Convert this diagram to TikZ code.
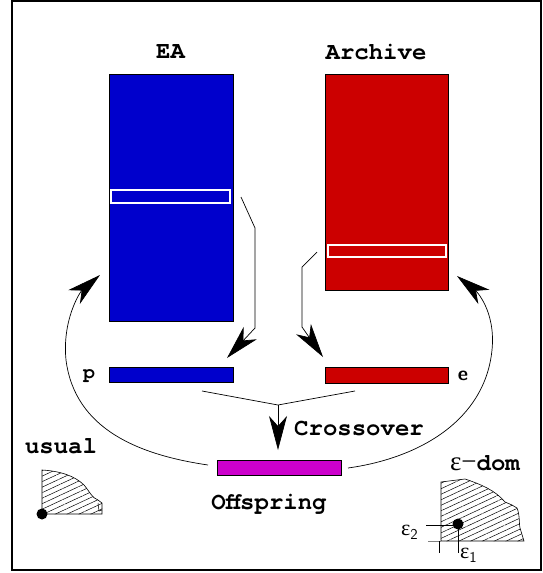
\documentclass[tikz,border=0pt]{standalone}
\usepackage{fontspec}
\setmonofont{TeX Gyre Cursor}
\newfontfamily\symfont{Liberation Serif}
\usetikzlibrary{arrows.meta,patterns.meta}
\definecolor{eablue}{HTML}{0000CC}
\definecolor{arred}{HTML}{CC0000}
\definecolor{offmag}{HTML}{CC00CC}
\newcommand{\epsub}[1]{{\symfont\fontsize{22}{22}\selectfont ε}\raisebox{-4pt}{\sffamily\fontsize{15}{15}\selectfont #1}}
\tikzset{
  box/.style={draw=black, line width=0.9pt, inner sep=0pt, outer sep=0pt},
  stripe/.style={draw=white, line width=1.2pt, inner sep=0pt, outer sep=0pt},
  lbl/.style={font=\ttfamily\bfseries\fontsize{24}{24}\selectfont, inner sep=0pt},
  small/.style={font=\ttfamily\bfseries\fontsize{20}{20}\selectfont, inner sep=0pt},
  conn/.style={line width=0.7pt},
  bigarrow/.style={line width=0.7pt, -{Stealth[length=34pt,width=18pt,inset=10pt]}},
  hatch/.style={draw=black, line width=0.6pt, pattern={Lines[angle=25,distance=5pt,line width=0.5pt]}},
}
\begin{document}
\begin{tikzpicture}[x=1pt,y=-1pt]
\useasboundingbox (0,0) rectangle (543,573);
\draw[line width=1.3pt] (12,1) rectangle (541,570);

% titles
\node[lbl] (tEA) at (170.5,52) {EA};
\node[lbl] (tAr) at (376,52) {Archive};

% populations
\node[box, fill=eablue, minimum width=124pt, minimum height=247pt] (EA) at (171,197.5) {};
\node[stripe, minimum width=119pt, minimum height=13pt] (EAs) at (170.5,196.5) {};
\node[box, fill=arred, minimum width=123pt, minimum height=216pt] (Ar) at (386.5,182) {};
\node[stripe, minimum width=118pt, minimum height=12pt] (Ars) at (387,251) {};

\node[box, fill=eablue, minimum width=124pt, minimum height=15pt] (pb) at (171,374.5) {};
\node[box, fill=arred, minimum width=123pt, minimum height=16pt] (eb) at (386.5,375) {};
\node[box, fill=offmag, minimum width=124pt, minimum height=15pt] (off) at (279,467.5) {};

\node[small] (pl) at (89,376) {p};
\node[font=\sffamily\bfseries\fontsize{20}{20}\selectfont, inner sep=0pt] (el) at (463,376) {e};

% selection arrows
\coordinate (a1) at (241,197);
\coordinate (a2) at (255,228);
\coordinate (a3) at (255,328);
\coordinate (a4) at (227,358);
\draw[conn] (a1) -- (a2) -- (a3);
\draw[bigarrow] (a3) -- (a4);

\coordinate (b1) at (317,252);
\coordinate (b2) at (302,267);
\coordinate (b3) at (302,327);
\coordinate (b4) at (323,357);
\draw[conn] (b1) -- (b2) -- (b3);
\draw[bigarrow] (b3) -- (b4);

% crossover
\coordinate (c1) at (202,391);
\coordinate (c2) at (355,391);
\coordinate (j) at (278,405);
\coordinate (jt) at (278,450);
\draw[conn] (c1) -- (j) -- (c2);
\draw[bigarrow] (j) -- (jt);
\node[lbl, anchor=west] (tCr) at (294,429) {Crossover};
\node[lbl] (tOf) at (269,504) {Offspring};

% feedback curves
\coordinate (l0) at (208,465);
\coordinate (lm) at (66,360);
\coordinate (l1) at (100,275);
\draw[conn] (l0) .. controls (140,455) and (75,430) .. (lm);
\draw[bigarrow] (lm) .. controls (62,320) and (80,292) .. (l1);

\coordinate (r0) at (348,468);
\coordinate (rm) at (492,350);
\coordinate (r1) at (457,276);
\draw[conn] (r0) .. controls (420,458) and (485,420) .. (rm);
\draw[bigarrow] (rm) .. controls (496,310) and (475,290) .. (r1);

% usual dominance
\node[lbl] (tUs) at (61,446) {usual};
\draw[hatch] (42,514) -- (42,470) .. controls (60,471) and (75,476) .. (84,485)
  .. controls (90,492) and (92,498) .. (98,500) -- (102,503) -- (102,514) -- cycle;
\draw[line width=0.5pt] (98,503) -- (99,511) -- (102,510);
\fill (42,514) circle (5.5pt);

% epsilon dominance
\node[inner sep=0pt] (tEd) at (485,463) {{\symfont\fontsize{27}{27}\selectfont ε−}{\ttfamily\bfseries\fontsize{24}{24}\selectfont dom}};
\draw[hatch] (441,541) -- (441,482) -- (465,479) .. controls (480,484) and (495,490) .. (505,502)
  -- (512,505) -- (517,508) .. controls (520,515) and (519,525) .. (520,528) -- (524,541) -- cycle;
\draw[line width=0.8pt, gray] (428,541) -- (441,541);
\draw[line width=0.8pt] (439,541) -- (439,553);
\draw[line width=0.8pt] (426,525) -- (458,525) -- (458,553);
\fill (458,524) circle (5.5pt);
\node[inner sep=0pt, anchor=west] (e2) at (401,532) {\epsub{2}};
\node[inner sep=0pt, anchor=west] (e1) at (460,555) {\epsub{1}};
\end{tikzpicture}
\end{document}
